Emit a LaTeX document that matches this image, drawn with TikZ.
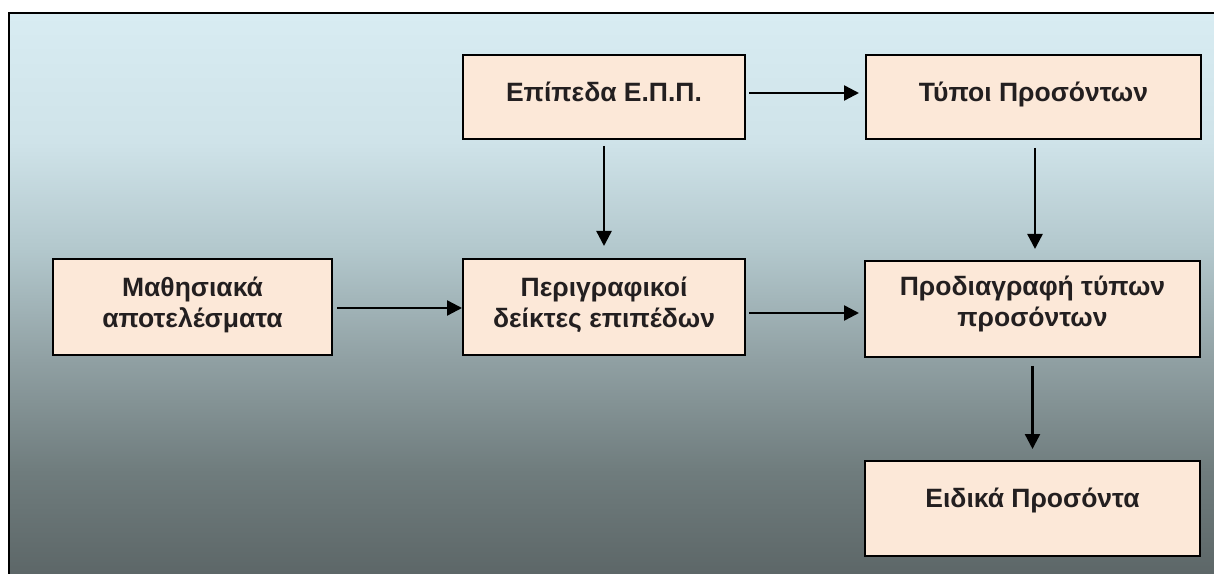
\documentclass[tikz,border=0pt]{standalone}
\usepackage{fontspec}
\setmainfont{Liberation Sans}
\usetikzlibrary{arrows.meta}
\definecolor{boxfill}{HTML}{FCE8D8}
\definecolor{txt}{HTML}{231F20}
\definecolor{bgA}{HTML}{5D6768}
\definecolor{bgB}{HTML}{6F7C7D}
\definecolor{bgC}{HTML}{90A0A3}
\definecolor{bgD}{HTML}{B3C8CD}
\definecolor{bgE}{HTML}{CFE3E9}
\definecolor{bgF}{HTML}{D8ECF2}
\pgfdeclareverticalshading{bgshade}{100bp}{color(0bp)=(bgA); color(25bp)=(bgA); color(34bp)=(bgB); color(44bp)=(bgC); color(54bp)=(bgD); color(63.5bp)=(bgE); color(75bp)=(bgF); color(100bp)=(bgF)}
\renewcommand\arraystretch{1}
\begin{document}
\begin{tikzpicture}[x=1pt,y=1pt,
  box/.style={draw=black, line width=2pt, fill=boxfill, inner sep=0pt},
  lbl/.style={font=\fontsize{26.5}{31}\selectfont\bfseries, text=txt, anchor=base, inner sep=0pt},
  conn/.style={line width=2.4pt, -{Triangle[length=15pt,width=15pt]}}]
\useasboundingbox (0,0) rectangle (1214,573);
\clip (0,0) rectangle (1214,573);
\fill[white] (0,0) rectangle (1214,573);
\shade[shading=bgshade] (9,0) rectangle (1216,560);
\draw[line width=2pt, black] (9,-2) -- (9,560) -- (1216,560);

\node[box, minimum width=282pt, minimum height=84pt] (epp) at (604,476) {};
\node[box, minimum width=335pt, minimum height=84pt] (typoi) at (1033.5,476) {};
\node[box, minimum width=279pt, minimum height=96pt] (math) at (192.5,266) {};
\node[box, minimum width=282pt, minimum height=96pt] (perig) at (604,266) {};
\node[box, minimum width=335pt, minimum height=96pt] (prod) at (1032.5,264) {};
\node[box, minimum width=335pt, minimum height=95pt] (eid) at (1032.5,64.5) {};

\node[lbl] (tepp) at (604,471) {Επίπεδα Ε.Π.Π.};
\node[lbl] (ttypoi) at (1033.5,471) {Τύποι Προσόντων};
\node[lbl] (tmath) at (192.5,276) {\begin{tabular}[t]{@{}c@{}}Μαθησιακά\\αποτελέσματα\end{tabular}};
\node[lbl] (tperig) at (604,276) {\begin{tabular}[t]{@{}c@{}}Περιγραφικοί\\δείκτες επιπέδων\end{tabular}};
\node[lbl] (tprod) at (1032.5,277) {\begin{tabular}[t]{@{}c@{}}Προδιαγραφή τύπων\\προσόντων\end{tabular}};
\node[lbl] (teid) at (1032.5,66) {Ειδικά Προσόντα};

\draw[conn, shorten <=3pt, shorten >=6pt] ([yshift=4pt]epp.east) -- ([yshift=4pt]typoi.west);
\draw[conn, shorten <=6pt, shorten >=12pt] (epp.south) -- (perig.north);
\draw[conn, shorten <=4pt, shorten >=0pt] ([yshift=-1pt]math.east) -- ([yshift=-1pt]perig.west);
\draw[conn, shorten <=3pt, shorten >=5pt] ([yshift=-6pt]perig.east) -- ([yshift=-4pt]prod.west);
\draw[conn, shorten <=8pt, shorten >=11pt] ([xshift=1.5pt]typoi.south) -- ([xshift=2.5pt]prod.north);
\draw[conn, shorten <=8pt, shorten >=11pt] (prod.south) -- (eid.north);
\end{tikzpicture}
\end{document}
